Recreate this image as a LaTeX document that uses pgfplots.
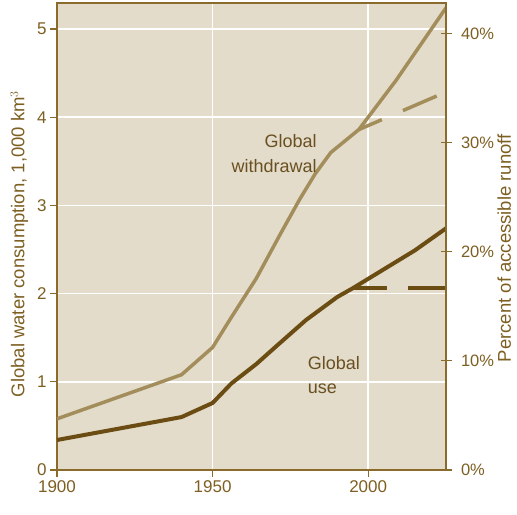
\documentclass[border=0pt]{standalone}
\usepackage{fontspec}
\setmainfont{Liberation Sans}
\usepackage{pgfplots}
\pgfplotsset{compat=1.18}
\definecolor{bgfill}{HTML}{E3DCCB}
\definecolor{axbrown}{HTML}{8A6B2C}
\definecolor{txtbrown}{HTML}{7D5F22}
\definecolor{lbl}{HTML}{6A5020}
\definecolor{withdr}{HTML}{A38D5B}
\definecolor{useline}{HTML}{6B4C12}
\begin{document}
\begin{tikzpicture}
\begin{axis}[name=ax,
    scale only axis, width=389pt, height=467pt,
    xmin=1900, xmax=2025, ymin=0, ymax=5.295,
    axis background/.style={fill=bgfill},
    axis line style={axbrown, line width=1.6pt},
    xtick={1900,1950,2000}, ytick={0,1,2,3,4,5},
    tick align=outside, major tick length=7pt,
    tick style={axbrown, line width=1.2pt},
    xtick pos=bottom, ytick pos=left,
    grid=major, major grid style={white, line width=1.6pt},
    /pgf/number format/1000 sep={},
    /pgf/number format/assume math mode=true,
    ticklabel style={font=\fontsize{17}{17}\selectfont, text=txtbrown},
    ylabel={Global water consumption, 1,000 km$^3$},
    ylabel style={font=\fontsize{18.5}{18.5}\selectfont, text=txtbrown,
        at={(axis description cs:-0.097,0.484)}, anchor=center},
]
\addplot[withdr, line width=3.5pt, line join=round] coordinates {
    (1900,0.58)(1940,1.08)(1950,1.39)(1956,1.73)(1964,2.17)(1972,2.69)
    (1978,3.07)(1983,3.36)(1988,3.60)(1997,3.86)(2009,4.42)(2025,5.24)
};
\addplot[withdr, line width=3.5pt, dash pattern=on 25pt off 23pt on 40pt] coordinates {
    (1997,3.86)(2022,4.24)
};
\addplot[useline, line width=4pt, line join=round] coordinates {
    (1900,0.34)(1940,0.60)(1950,0.76)(1956,0.98)(1964,1.20)(1971,1.42)
    (1980,1.70)(1990,1.96)(1995,2.06)(2015,2.49)(2025,2.74)
};
\addplot[useline, line width=4pt, dash pattern=on 34pt off 21pt on 50pt] coordinates {
    (1995,2.06)(2025,2.06)
};
\node[font=\fontsize{18}{25}\selectfont, text=lbl, align=right, anchor=east]
    at (axis cs:1984.6,3.59) {Global\\withdrawal};
\node[font=\fontsize{18}{24}\selectfont, text=lbl, align=left, anchor=west]
    at (axis cs:1979.5,1.08) {Global\\use};
\end{axis}
\begin{axis}[
    at={(ax.south west)}, anchor=south west,
    scale only axis, width=389pt, height=467pt,
    xmin=1900, xmax=2025, ymin=0, ymax=42.8,
    axis x line=none, axis y line*=right,
    axis line style={axbrown, line width=1.6pt},
    ytick={0,10,20,30,40},
    yticklabel={\pgfmathprintnumber{\tick}\%},
    tick align=center, major tick length=11pt,
    tick style={axbrown, line width=1.2pt},
    /pgf/number format/assume math mode=true,
    yticklabel style={font=\fontsize{16.5}{16.5}\selectfont, text=txtbrown, xshift=6pt},
    ylabel={Percent of accessible runoff},
    ylabel style={font=\fontsize{18.5}{18.5}\selectfont, text=txtbrown,
        at={(axis description cs:1.150,0.475)}, anchor=center, rotate=0},
]
\end{axis}
\pgfresetboundingbox
\path (ax.south west) ++(-57pt,-45pt) rectangle ([shift={(71pt,3pt)}]ax.north east);
\end{tikzpicture}
\end{document}
